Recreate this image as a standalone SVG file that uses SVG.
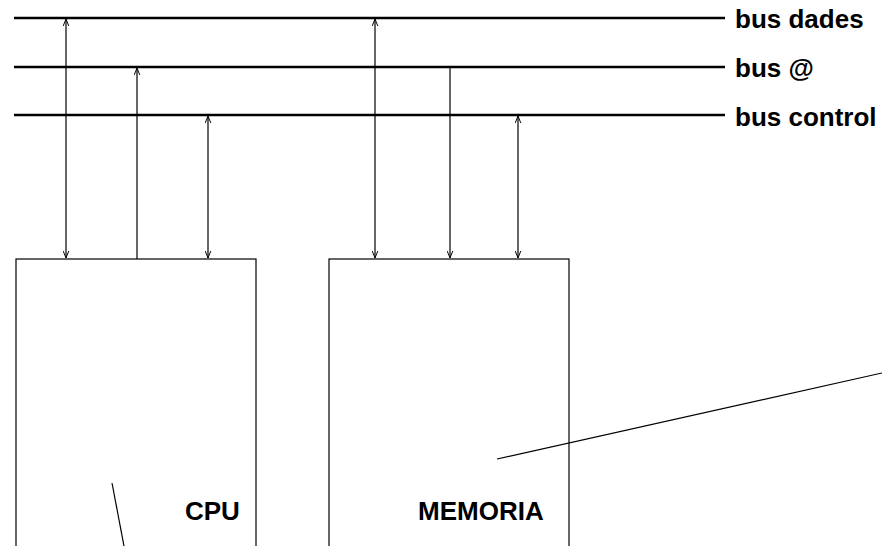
<svg xmlns="http://www.w3.org/2000/svg" width="882" height="546" viewBox="0 0 882 546">
<style>
.bus{stroke:#000;stroke-width:2.5;fill:none}
.ln{stroke:#000;stroke-width:1.2;fill:none}
.box{stroke:#000;stroke-width:1.2;fill:#fff}
.lbl{font-family:"Liberation Sans",Arial,sans-serif;font-weight:bold;font-size:26px;fill:#000}
</style>
<defs>
<marker id="ah" viewBox="0 0 10 10" refX="10" refY="5" markerWidth="7" markerHeight="7" markerUnits="userSpaceOnUse" orient="auto-start-reverse">
<path d="M0,1 L10,5 L0,9" fill="none" stroke="#000" stroke-width="1.4"/>
</marker>
</defs>
<g id="buses">
<line class="bus" x1="14" y1="18" x2="725" y2="18"/>
<line class="bus" x1="14" y1="67" x2="725" y2="67"/>
<line class="bus" x1="14" y1="115" x2="725" y2="115"/>
<text class="lbl" x="735" y="28">bus dades</text>
<text class="lbl" x="735" y="77">bus @</text>
<text class="lbl" x="735" y="126">bus control</text>
</g>
<g id="cpu">
<rect class="box" x="16" y="259" width="240" height="300"/>
<text class="lbl" x="185" y="520">CPU</text>
</g>
<g id="memoria">
<rect class="box" x="329" y="259" width="240" height="300"/>
<text class="lbl" x="418" y="520">MEMORIA</text>
</g>
<g id="connectors">
<line class="ln" x1="66" y1="19" x2="66" y2="258" marker-start="url(#ah)" marker-end="url(#ah)"/>
<line class="ln" x1="137" y1="68" x2="137" y2="259" marker-start="url(#ah)"/>
<line class="ln" x1="208" y1="116" x2="208" y2="258" marker-start="url(#ah)" marker-end="url(#ah)"/>
<line class="ln" x1="375" y1="19" x2="375" y2="258" marker-start="url(#ah)" marker-end="url(#ah)"/>
<line class="ln" x1="450" y1="67" x2="450" y2="258" marker-end="url(#ah)"/>
<line class="ln" x1="518" y1="116" x2="518" y2="258" marker-start="url(#ah)" marker-end="url(#ah)"/>
<line class="ln" x1="112" y1="483" x2="124" y2="546"/>
<line class="ln" x1="497" y1="459" x2="882" y2="373"/>
</g>
</svg>
